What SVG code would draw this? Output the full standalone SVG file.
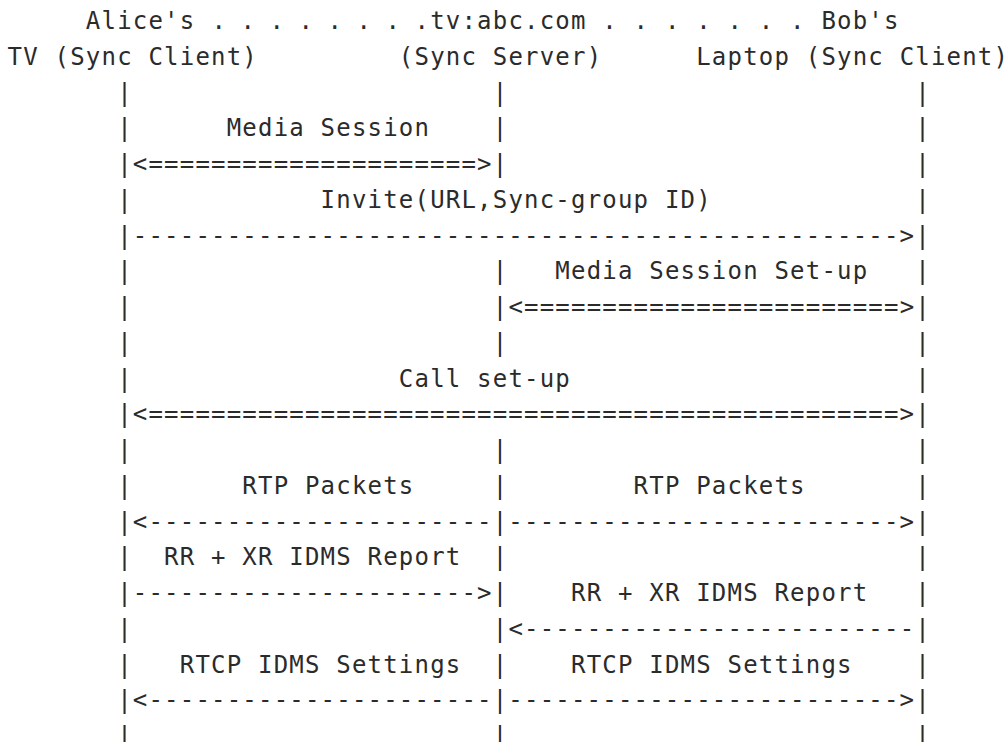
<svg xmlns="http://www.w3.org/2000/svg" width="1008" height="742" viewBox="0 0 1008 742">
<style>
text{font-family:"DejaVu Sans Mono","Liberation Mono",monospace;font-size:24px;letter-spacing:1.2px;fill:#2b2b2b;white-space:pre}
</style>
<rect width="1008" height="742" fill="#fff"/>
<g id="alice">
<text x="85.85" y="29">Alice's</text>
<text x="7.6" y="64.75">TV (Sync Client)</text>
</g>
<g id="server">
<text x="414.5" y="29">.tv:abc.com</text>
<text x="398.85" y="64.75">(Sync Server)</text>
</g>
<g id="bob">
<text x="821.4" y="29">Bob's</text>
<text x="696.2" y="64.75">Laptop (Sync Client)</text>
</g>
<g id="header-dots">
<text x="211.4 240.4 269.4 298.4 327.4 356.4 385.4" y="29">.......</text>
<text xml:space="preserve" x="586.65" y="29"> . . . . . . .</text>
</g>
<g id="connectors">
<!-- row 2 -->
<text x="117.15" y="100.5">|</text><text x="492.75" y="100.5">|</text><text x="915.3" y="100.5">|</text>
<!-- row 3 -->
<text x="117.15" y="136.25">|</text><text x="492.75" y="136.25">|</text><text x="915.3" y="136.25">|</text>
<!-- row 4 -->
<text x="117.15" y="172">|&lt;=====================&gt;|</text><text x="915.3" y="172">|</text>
<!-- row 5 -->
<text x="117.15" y="207.75">|</text><text x="915.3" y="207.75">|</text>
<!-- row 6 -->
<text x="117.15" y="243.5">|-------------------------------------------------&gt;|</text>
<!-- row 7 -->
<text x="117.15" y="279.25">|</text><text x="492.75" y="279.25">|</text><text x="915.3" y="279.25">|</text>
<!-- row 8 -->
<text x="117.15" y="315">|</text><text x="492.75" y="315">|&lt;========================&gt;|</text>
<!-- row 9 -->
<text x="117.15" y="350.75">|</text><text x="492.75" y="350.75">|</text><text x="915.3" y="350.75">|</text>
<!-- row 10 -->
<text x="117.15" y="386.5">|</text><text x="915.3" y="386.5">|</text>
<!-- row 11 -->
<text x="117.15" y="422.25">|&lt;================================================&gt;|</text>
<!-- row 12 -->
<text x="117.15" y="458">|</text><text x="492.75" y="458">|</text><text x="915.3" y="458">|</text>
<!-- row 13 -->
<text x="117.15" y="493.75">|</text><text x="492.75" y="493.75">|</text><text x="915.3" y="493.75">|</text>
<!-- row 14 -->
<text x="117.15" y="529.5">|&lt;----------------------|-------------------------&gt;|</text>
<!-- row 15 -->
<text x="117.15" y="565.25">|</text><text x="492.75" y="565.25">|</text><text x="915.3" y="565.25">|</text>
<!-- row 16 -->
<text x="117.15" y="601">|----------------------&gt;|</text><text x="915.3" y="601">|</text>
<!-- row 17 -->
<text x="117.15" y="636.75">|</text><text x="492.75" y="636.75">|&lt;-------------------------|</text>
<!-- row 18 -->
<text x="117.15" y="672.5">|</text><text x="492.75" y="672.5">|</text><text x="915.3" y="672.5">|</text>
<!-- row 19 -->
<text x="117.15" y="708.25">|&lt;----------------------|-------------------------&gt;|</text>
<!-- row 20 -->
<text x="117.15" y="744">|</text><text x="492.75" y="744">|</text><text x="915.3" y="744">|</text>
</g>
<g id="labels">
<text x="226.7" y="136.25">Media Session</text>
<text x="320.6" y="207.75">Invite(URL,Sync-group ID)</text>
<text x="555.35" y="279.25">Media Session Set-up</text>
<text x="398.85" y="386.5">Call set-up</text>
<text x="242.35" y="493.75">RTP Packets</text>
<text x="633.6" y="493.75">RTP Packets</text>
<text x="164.1" y="565.25">RR + XR IDMS Report</text>
<text x="571" y="601">RR + XR IDMS Report</text>
<text x="179.75" y="672.5">RTCP IDMS Settings</text>
<text x="571" y="672.5">RTCP IDMS Settings</text>
</g>
</svg>
